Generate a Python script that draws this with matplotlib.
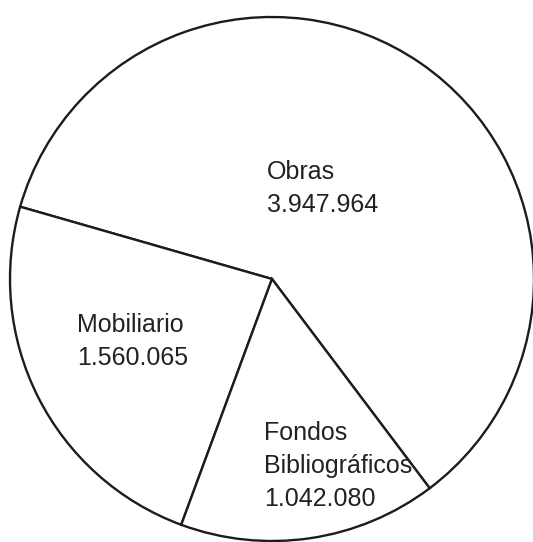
#import required modules
import matplotlib.pyplot as plt

#chart data
labels = ['Obras', 'Mobiliario', 'Fondos\nBibliográficos']
values = [3947964, 1560065, 1042080]

#label anchor points in image pixels (left x, first baseline y from top)
labelPos = [(267, 179), (77, 332), (264, 440)]
linePitch = 33

#figure in pixel units so the axes map 1:1 onto the 533x542 image
W, H = 533, 542
fig = plt.figure(figsize=(W/100, H/100), dpi=100)
ax = fig.add_axes([0, 0, 1, 1])
ax.set_xlim(0, W)
ax.set_ylim(0, H)
ax.axis('off')

#pie drawn from the values, white wedges with dark outlines
ax.pie(values, center=(272, H-279), radius=262, startangle=307,
       colors=['white']*len(values), frame=True,
       wedgeprops=dict(edgecolor='#1c1c1c', linewidth=1.7))
ax.set_xlim(0, W)
ax.set_ylim(0, H)
ax.set_aspect('equal')
ax.axis('off')

#labels: name lines then value with '.' as thousands separator
for lab, val, (x, y) in zip(labels, values, labelPos):
    lines = lab.split('\n') + ['{:,}'.format(val).replace(',', '.')]
    for i, txt in enumerate(lines):
        ax.text(x, H - (y + i*linePitch), txt, ha='left', va='baseline',
                fontsize=18, family='Liberation Sans', color='#222222')

fig.savefig('out.png', dpi=100, facecolor='white')
